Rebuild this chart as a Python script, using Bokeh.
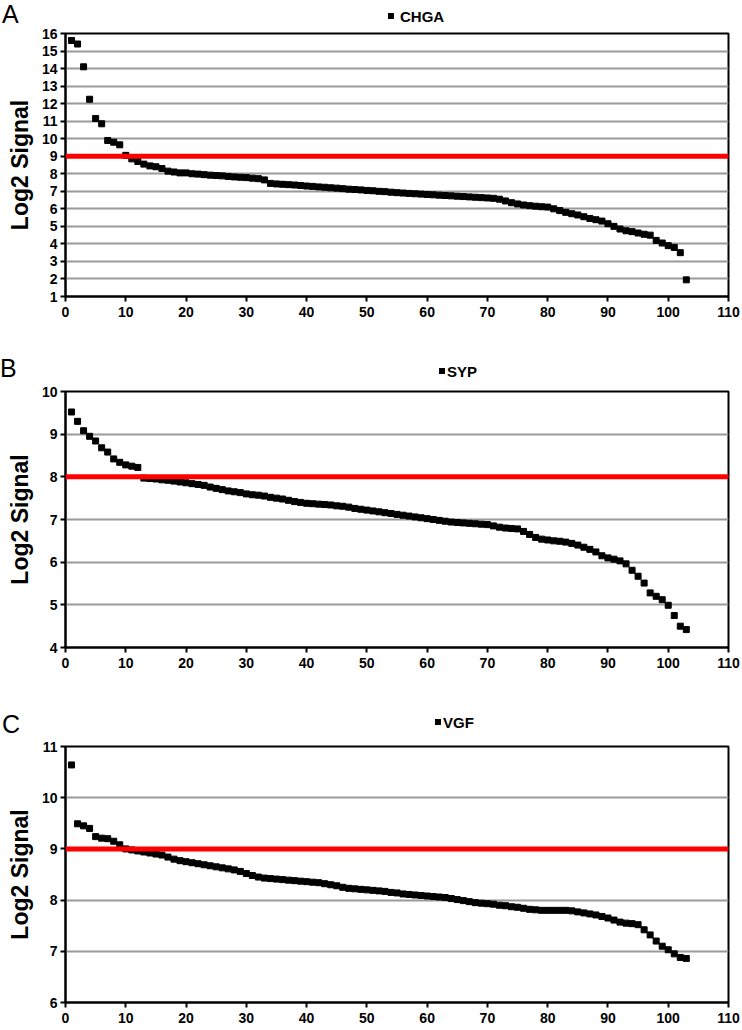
from bokeh.plotting import figure
from bokeh.layouts import column
from bokeh.models import Span, Range1d, FixedTicker, Div
from bokeh.embed import file_html
from bokeh.resources import INLINE

# ---------------- data ----------------
rank = list(range(1, 104))

chga = [15.6, 15.4, 14.1, 12.25, 11.15, 10.85, 9.9, 9.8, 9.65, 9.05,
        8.85, 8.7, 8.55, 8.45, 8.4, 8.3, 8.15, 8.1, 8.05, 8.05,
        8.0, 7.98, 7.95, 7.92, 7.9, 7.88, 7.85, 7.82, 7.8, 7.78,
        7.75, 7.72, 7.65, 7.45, 7.42, 7.4, 7.38, 7.36, 7.33, 7.3,
        7.28, 7.25, 7.23, 7.2, 7.18, 7.15, 7.12, 7.1, 7.08, 7.05,
        7.03, 7.0, 6.98, 6.95, 6.92, 6.9, 6.88, 6.86, 6.84, 6.82,
        6.8, 6.78, 6.76, 6.74, 6.72, 6.7, 6.68, 6.66, 6.64, 6.62,
        6.6, 6.55, 6.45, 6.35, 6.28, 6.22, 6.18, 6.15, 6.12, 6.1,
        6.0, 5.9, 5.8, 5.72, 5.65, 5.55, 5.45, 5.38, 5.3, 5.15,
        5.0, 4.85, 4.75, 4.7, 4.62, 4.55, 4.5, 4.2, 4.05, 3.9,
        3.8, 3.5, 1.95]

syp = [9.52, 9.3, 9.08, 8.95, 8.84, 8.68, 8.58, 8.42, 8.34, 8.28,
       8.25, 8.22, 7.97, 7.96, 7.95, 7.93, 7.92, 7.9, 7.88, 7.86,
       7.84, 7.82, 7.8, 7.76, 7.73, 7.7, 7.67, 7.65, 7.63, 7.6,
       7.58, 7.57, 7.55, 7.52, 7.5, 7.48, 7.45, 7.42, 7.4, 7.38,
       7.37, 7.36, 7.35, 7.34, 7.32, 7.31, 7.29, 7.26, 7.24, 7.22,
       7.2, 7.18, 7.16, 7.14, 7.12, 7.1, 7.08, 7.06, 7.04, 7.02,
       7.0, 6.98, 6.96, 6.94, 6.93, 6.92, 6.91, 6.9, 6.89, 6.88,
       6.85, 6.82, 6.8, 6.79, 6.78, 6.72, 6.65, 6.58, 6.54, 6.52,
       6.5, 6.49, 6.47, 6.44, 6.4, 6.35, 6.3, 6.24, 6.15, 6.1,
       6.07, 6.03, 5.96, 5.81, 5.67, 5.51, 5.28, 5.2, 5.12, 4.99,
       4.75, 4.5, 4.42]

vgf = [10.64, 9.49, 9.45, 9.4, 9.24, 9.21, 9.2, 9.15, 9.08, 9.0,
       8.98, 8.96, 8.94, 8.92, 8.9, 8.88, 8.84, 8.8, 8.77, 8.75,
       8.73, 8.71, 8.69, 8.67, 8.65, 8.63, 8.61, 8.59, 8.56, 8.52,
       8.48, 8.45, 8.43, 8.42, 8.41, 8.4, 8.39, 8.38, 8.37, 8.36,
       8.35, 8.34, 8.32, 8.3, 8.28, 8.25, 8.23, 8.22, 8.21, 8.2,
       8.19, 8.18, 8.17, 8.15, 8.14, 8.12, 8.11, 8.1, 8.09, 8.08,
       8.07, 8.06, 8.05, 8.03, 8.01, 7.99, 7.97, 7.95, 7.94, 7.93,
       7.92, 7.9, 7.89, 7.87, 7.86, 7.84, 7.82, 7.81, 7.8, 7.8,
       7.8, 7.8, 7.8, 7.79, 7.77, 7.75, 7.73, 7.71, 7.68, 7.65,
       7.61, 7.57, 7.55, 7.54, 7.52, 7.42, 7.32, 7.2, 7.1, 7.03,
       6.95, 6.88, 6.86]

x_ticks = list(range(0, 111, 10))

panels = [
    dict(letter="A", name="CHGA", values=chga, ymin=1, ymax=16, thresh=9,
         head_h=24, letter_xy=(2, 2), mark_xy=(388, 13), text_xy=(400, 9),
         height=311, bottom=39),
    dict(letter="B", name="SYP", values=syp, ymin=4, ymax=10, thresh=8,
         head_h=47, letter_xy=(0, 21), mark_xy=(439, 33), text_xy=(447, 29),
         height=308, bottom=43),
    dict(letter="C", name="VGF", values=vgf, ymin=6, ymax=11, thresh=9,
         head_h=47, letter_xy=(2, 22), mark_xy=(435, 29), text_xy=(443, 25),
         height=291, bottom=26),
]

FONT = "Liberation Sans"
W = 740
items = []
for cfg in panels:
    # ---- header strip: panel letter + legend key ----
    lx, ly = cfg["letter_xy"]
    mx, my = cfg["mark_xy"]
    tx, ty = cfg["text_xy"]
    html = (
        f'<div style="position:relative;width:{W}px;height:{cfg["head_h"]}px;'
        f'font-family:\'{FONT}\';color:black;">'
        f'<span style="position:absolute;left:{lx}px;top:{ly}px;'
        f'font-size:25px;line-height:25px;font-weight:normal;">{cfg["letter"]}</span>'
        f'<span style="position:absolute;left:{mx}px;top:{my}px;width:6px;'
        f'height:6px;background:black;"></span>'
        f'<span style="position:absolute;left:{tx}px;top:{ty}px;'
        f'font-size:15px;line-height:15px;font-weight:bold;">{cfg["name"]}</span>'
        f'</div>'
    )
    items.append(Div(text=html, width=W, height=cfg["head_h"], margin=0))

    # ---- main chart ----
    p = figure(width=W, height=cfg["height"], output_backend="svg",
               toolbar_location=None,
               x_range=Range1d(0, 110), y_range=Range1d(cfg["ymin"], cfg["ymax"]),
               min_border_left=65, min_border_right=12,
               min_border_top=9, min_border_bottom=cfg["bottom"])
    p.background_fill_color = "white"
    p.border_fill_color = "white"
    p.outline_line_color = "black"
    p.outline_line_width = 2

    yt = list(range(cfg["ymin"], cfg["ymax"] + 1))
    p.xgrid.visible = False
    p.ygrid.grid_line_color = "#9a9a9a"
    p.ygrid.grid_line_width = 2
    p.ygrid.ticker = FixedTicker(ticks=yt)

    p.xaxis.ticker = FixedTicker(ticks=x_ticks)
    p.yaxis.ticker = FixedTicker(ticks=yt)
    for ax in (p.xaxis[0], p.yaxis[0]):
        ax.axis_line_color = "black"
        ax.axis_line_width = 2
        ax.major_tick_line_color = "black"
        ax.major_tick_line_width = 2
        ax.major_tick_out = 5
        ax.major_tick_in = 0
        ax.minor_tick_line_color = None
        ax.major_label_text_font = FONT
        ax.major_label_text_font_style = "bold"
        ax.major_label_text_font_size = "14px"
        ax.major_label_text_color = "black"
        ax.major_label_standoff = 3
    p.xaxis.major_label_standoff = 5
    p.yaxis.axis_label = "Log2 Signal"
    p.yaxis.axis_label_text_font = FONT
    p.yaxis.axis_label_text_font_style = "bold"
    p.yaxis.axis_label_text_font_size = "23px"
    p.yaxis.axis_label_text_color = "black"
    p.yaxis.axis_label_standoff = 6

    p.add_layout(Span(location=cfg["thresh"], dimension="width",
                      line_color="#ff0000", line_width=5))

    p.scatter(rank, cfg["values"], marker="square", size=6,
              fill_color="black", line_color="black")
    items.append(p)

layout = column(*items, spacing=0)
open("out.html", "w").write(file_html(layout, INLINE))
